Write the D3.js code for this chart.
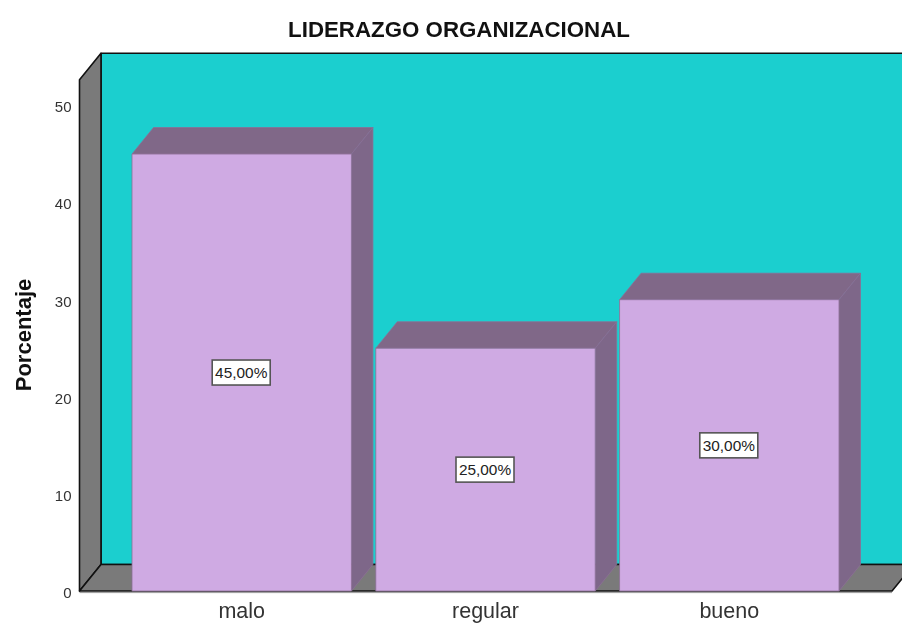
<!DOCTYPE html>
<html><head><meta charset="utf-8">
<script src="https://cdn.jsdelivr.net/npm/d3@7"></script>
<style>html,body{margin:0;padding:0;background:#fff}svg{display:block;filter:blur(0.45px)}text{font-family:"Liberation Sans",Arial,sans-serif}</style>
</head><body><div id="chart"></div>
<script>
const categories = ["malo","regular","bueno"];
const percentages = [45,25,30];
const valueLabels = ["45,00%","25,00%","30,00%"];
const yTicks = [0,10,20,30,40,50];
const chartTitle = "LIDERAZGO ORGANIZACIONAL";
const yTitle = "Porcentaje";

const W=902,H=624, depthX=21.5, depthY=-26.5;
const L=79.5,R=892,B=591,TOPV=52.7;
const svg=d3.select("#chart").append("svg").attr("width",W).attr("height",H);
const y=d3.scaleLinear().domain([0,50]).range([B,105.5]);
const x=d3.scaleBand().domain(categories).range([132,839]).paddingInner(0.1).paddingOuter(0);
const frameTop=y(TOPV);
const poly=(pts,fill,stroke,sw)=>svg.append("polygon").attr("points",pts.map(p=>p.join(",")).join(" "))
  .attr("fill",fill).attr("stroke",stroke||"none").attr("stroke-width",sw||0).attr("stroke-linejoin","round");

// chart frame
poly([[L+depthX,frameTop+depthY+0.5],[R+depthX,frameTop+depthY+0.5],[R+depthX,B+depthY],[L+depthX,B+depthY]],"#1bcfcf","#111",1.6);
poly([[L,frameTop+0.5],[L+depthX,frameTop+depthY+0.5],[L+depthX,B+depthY],[L,B]],"#7a7a7a","#111",1.6);
poly([[L,B],[L+depthX,B+depthY],[R+depthX,B+depthY],[R,B]],"#7a7a7a","#111",1.6);
svg.append("line").attr("x1",L).attr("x2",R).attr("y1",B+1.6).attr("y2",B+1.6).attr("stroke","#999").attr("stroke-width",1);

// bars
const rows=categories.map((c,i)=>({c,v:percentages[i],label:valueLabels[i]}));
const bars=svg.append("g").selectAll("g").data(rows).join("g");
bars.each(function(d){
  const g=d3.select(this),x0=x(d.c),x1=x0+x.bandwidth(),yt=y(d.v);
  const pg=(pts,fill)=>g.append("polygon").attr("points",pts.map(p=>p.join(",")).join(" ")).attr("fill",fill).attr("stroke","#8b6f96").attr("stroke-width",0.8);
  pg([[x0,yt],[x0+depthX,yt+depthY],[x1+depthX,yt+depthY],[x1,yt]],"#806888");
  pg([[x1,yt],[x1+depthX,yt+depthY],[x1+depthX,B+depthY],[x1,B]],"#7e6789");
  pg([[x0,yt],[x1,yt],[x1,B],[x0,B]],"#cfaae3");
});
// value labels
const lab=svg.append("g").selectAll("g").data(rows).join("g")
  .attr("transform",d=>`translate(${x(d.c)+x.bandwidth()/2-0.5},${y(d.v/2)})`);
lab.append("rect").attr("x",-29).attr("y",-12.5).attr("width",58).attr("height",25)
  .attr("fill","#fff").attr("stroke","#555").attr("stroke-width",1.6);
lab.append("text").attr("text-anchor","middle").attr("dy","0.36em").attr("font-size",15.4).attr("fill","#222").text(d=>d.label);

// axes
const yAxis=svg.append("g").attr("transform",`translate(${L-1},1.5)`)
  .call(d3.axisLeft(y).tickValues(yTicks).tickSize(0).tickPadding(7));
yAxis.select(".domain").remove();
yAxis.selectAll("text").attr("font-size",15).attr("fill","#333").style("font-family",'"Liberation Sans",Arial,sans-serif');
const xAxis=svg.append("g").attr("transform",`translate(0,${B})`)
  .call(d3.axisBottom(x).tickSize(0).tickPadding(12));
xAxis.select(".domain").remove();
xAxis.selectAll("text").attr("font-size",21.5).attr("fill","#333").style("font-family",'"Liberation Sans",Arial,sans-serif');

// titles
svg.append("text").attr("x",459).attr("y",36.5).attr("text-anchor","middle").attr("font-size",22.3).attr("font-weight","bold").attr("fill","#111").text(chartTitle);
svg.append("text").attr("transform","translate(31,335) rotate(-90)").attr("text-anchor","middle").attr("font-size",22).attr("font-weight","bold").attr("fill","#111").text(yTitle);
</script></body></html>
